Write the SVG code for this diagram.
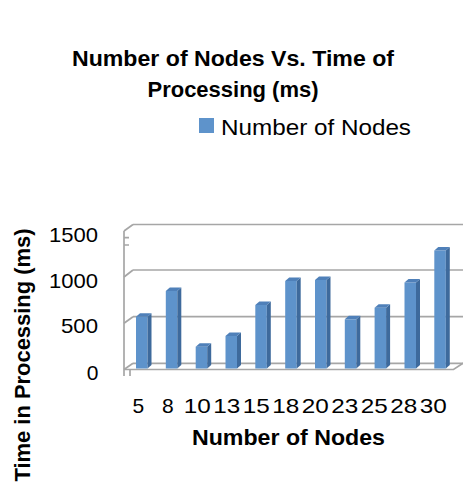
<svg xmlns="http://www.w3.org/2000/svg" width="463" height="486" viewBox="0 0 463 486">
<style>
text{font-family:"Liberation Sans",Arial,sans-serif;fill:#000}
.t{font-weight:bold;font-size:22px;text-anchor:middle}
.tick{font-size:21px}
.yl{text-anchor:end}
.xl{text-anchor:middle}
.grid{stroke:#A6A6A6;stroke-width:1.7;fill:none}
.front{fill:#5E93CB}
.side{fill:#3E6A9C}
.top{fill:#4F80B9}
</style>
<rect width="463" height="486" fill="#fff"/>
<g id="title">
<text class="t" x="233" y="66" textLength="322" lengthAdjust="spacingAndGlyphs">Number of Nodes Vs. Time of</text>
<text class="t" x="233" y="97" textLength="171" lengthAdjust="spacingAndGlyphs">Processing (ms)</text>
</g>
<g id="legend">
<rect x="199" y="118" width="15" height="15" fill="#5E93CB"/>
<text x="221" y="134.5" font-size="22" textLength="190" lengthAdjust="spacingAndGlyphs">Number of Nodes</text>
</g>
<g id="axes">
<path class="grid" d="M133,224.5H463M133,270H463M133,316.7H463M133,363.3H463"/>
<path class="grid" d="M124,231L133,224.5M124,277L133,270M124,323.3L133,316.7M124,369.5L133,363.3"/>
<path class="grid" d="M124,231V376M124,369.5H453.5L463,363.3"/>
<path class="grid" d="M124,237.7H129M124,245H129M130,369.5V376"/>
</g>
<g id="bars">
<g id="bar-5"><rect class="front" x="136" y="316.7" width="11.5" height="51.8"/><path class="side" d="M147.5,316.7L151.5,313.2V365L147.5,368.5Z"/><path class="top" d="M136,316.7L140,313.2H151.5L147.5,316.7Z"/></g>
<g id="bar-8"><rect class="front" x="165.8" y="291" width="11.5" height="77.5"/><path class="side" d="M177.3,291L181.3,287.5V365L177.3,368.5Z"/><path class="top" d="M165.8,291L169.8,287.5H181.3L177.3,291Z"/></g>
<g id="bar-10"><rect class="front" x="195.7" y="346.7" width="11.5" height="21.8"/><path class="side" d="M207.2,346.7L211.2,343.2V365L207.2,368.5Z"/><path class="top" d="M195.7,346.7L199.7,343.2H211.2L207.2,346.7Z"/></g>
<g id="bar-13"><rect class="front" x="225.5" y="336" width="11.5" height="32.5"/><path class="side" d="M237,336L241,332.5V365L237,368.5Z"/><path class="top" d="M225.5,336L229.5,332.5H241L237,336Z"/></g>
<g id="bar-15"><rect class="front" x="255.3" y="305" width="11.5" height="63.5"/><path class="side" d="M266.8,305L270.8,301.5V365L266.8,368.5Z"/><path class="top" d="M255.3,305L259.3,301.5H270.8L266.8,305Z"/></g>
<g id="bar-18"><rect class="front" x="285.2" y="281" width="11.5" height="87.5"/><path class="side" d="M296.7,281L300.7,277.5V365L296.7,368.5Z"/><path class="top" d="M285.2,281L289.2,277.5H300.7L296.7,281Z"/></g>
<g id="bar-20"><rect class="front" x="315" y="280" width="11.5" height="88.5"/><path class="side" d="M326.5,280L330.5,276.5V365L326.5,368.5Z"/><path class="top" d="M315,280L319,276.5H330.5L326.5,280Z"/></g>
<g id="bar-23"><rect class="front" x="344.8" y="319.3" width="11.5" height="49.2"/><path class="side" d="M356.3,319.3L360.3,315.8V365L356.3,368.5Z"/><path class="top" d="M344.8,319.3L348.8,315.8H360.3L356.3,319.3Z"/></g>
<g id="bar-25"><rect class="front" x="374.6" y="307.7" width="11.5" height="60.8"/><path class="side" d="M386.1,307.7L390.1,304.2V365L386.1,368.5Z"/><path class="top" d="M374.6,307.7L378.6,304.2H390.1L386.1,307.7Z"/></g>
<g id="bar-28"><rect class="front" x="404.5" y="282.5" width="11.5" height="86"/><path class="side" d="M416,282.5L420,279V365L416,368.5Z"/><path class="top" d="M404.5,282.5L408.5,279H420L416,282.5Z"/></g>
<g id="bar-30"><rect class="front" x="434.3" y="250.5" width="11.5" height="118"/><path class="side" d="M445.8,250.5L449.8,247V365L445.8,368.5Z"/><path class="top" d="M434.3,250.5L438.3,247H449.8L445.8,250.5Z"/></g>
</g>
<g id="y-labels">
<text class="tick yl" x="98" y="241.5" textLength="49" lengthAdjust="spacingAndGlyphs">1500</text>
<text class="tick yl" x="98" y="287.5" textLength="49" lengthAdjust="spacingAndGlyphs">1000</text>
<text class="tick yl" x="98" y="333" textLength="37" lengthAdjust="spacingAndGlyphs">500</text>
<text class="tick yl" x="98.5" y="380">0</text>
</g>
<g id="x-labels">
<text class="tick xl" x="138.3" y="413">5</text>
<text class="tick xl" x="167.8" y="413">8</text>
<text class="tick xl" x="197.3" y="413" textLength="27" lengthAdjust="spacingAndGlyphs">10</text>
<text class="tick xl" x="226.8" y="413" textLength="27" lengthAdjust="spacingAndGlyphs">13</text>
<text class="tick xl" x="256.3" y="413" textLength="27" lengthAdjust="spacingAndGlyphs">15</text>
<text class="tick xl" x="285.8" y="413" textLength="27" lengthAdjust="spacingAndGlyphs">18</text>
<text class="tick xl" x="315.3" y="413" textLength="27" lengthAdjust="spacingAndGlyphs">20</text>
<text class="tick xl" x="344.8" y="413" textLength="27" lengthAdjust="spacingAndGlyphs">23</text>
<text class="tick xl" x="374.3" y="413" textLength="27" lengthAdjust="spacingAndGlyphs">25</text>
<text class="tick xl" x="403.8" y="413" textLength="27" lengthAdjust="spacingAndGlyphs">28</text>
<text class="tick xl" x="433.3" y="413" textLength="27" lengthAdjust="spacingAndGlyphs">30</text>
</g>
<g id="axis-titles">
<text class="t" x="288.5" y="445" textLength="193" lengthAdjust="spacingAndGlyphs">Number of Nodes</text>
<text class="t" transform="translate(29.5,355) rotate(-90)" x="0" y="0" textLength="253" lengthAdjust="spacingAndGlyphs">Time in Processing (ms)</text>
</g>
</svg>
